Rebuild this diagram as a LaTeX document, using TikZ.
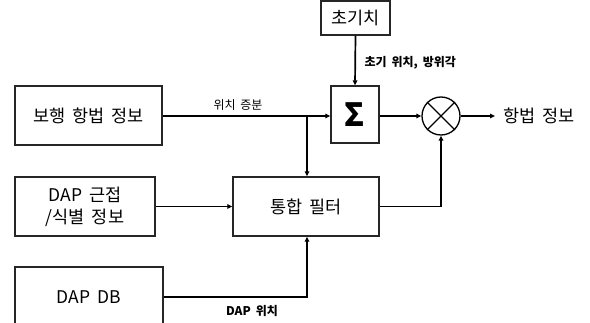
\documentclass[tikz,border=0pt]{standalone}
\usepackage{fontspec}
\setmainfont[WordSpace=1.8]{Noto Sans CJK KR}
\usetikzlibrary{arrows.meta}
\begin{document}
\begin{tikzpicture}[x=1pt,y=-1pt,
  blk/.style={draw=black!85,line width=1.3pt,inner sep=0pt,align=center,font=\fontsize{17.5}{21}\selectfont},
  con/.style={line width=1.7pt,black},
  arr/.style={con,-{Triangle[length=5pt,width=4.5pt]}},
  lbl/.style={font=\fontsize{12}{14}\selectfont},
  blbl/.style={font=\fontsize{12}{14}\selectfont\bfseries}]
\useasboundingbox (0,0) rectangle (590,323);
\clip (0,0) rectangle (590,323);
\node[blk,minimum width=147pt,minimum height=59pt] (walk) at (88.5,115.5) {보행 항법 정보};
\node[blk,minimum width=48pt,minimum height=57pt,font=\fontsize{32}{32}\selectfont\bfseries] (sigma) at (355,114.5) {Σ};
\node[blk,minimum width=69pt,minimum height=34pt] (init) at (355.5,18) {초기치};
\node[draw=black,line width=1.3pt,circle,minimum size=38pt,inner sep=0pt] (circ) at (441,116) {};
\draw[line width=1.1pt] (circ.north west) -- (circ.south east) (circ.north east) -- (circ.south west);
\node[blk,minimum width=146pt,minimum height=59pt] (filt) at (306,206.5) {통합 필터};
\node[blk,minimum width=140pt,minimum height=59pt,font=\fontsize{17.5}{22}\selectfont] (dap) at (85,206.5) {DAP 근접\\/식별 정보};
\node[blk,minimum width=148pt,minimum height=60pt] (db) at (89,297) {DAP DB};
\node[draw=none,anchor=west,inner sep=0pt,font=\fontsize{17.5}{21}\selectfont] (out) at (503,116) {항법 정보};
\coordinate (tap) at (307,116);
\coordinate (outend) at (495,116);
% connectors
\draw[arr] (walk.east |- tap) -- (tap -| sigma.west);
\draw[arr] (tap) -- (tap |- filt.north);
\draw[arr] (init.south) -- (sigma.north);
\draw[arr] (sigma.east |- circ.west) -- (circ.west);
\draw[arr] (circ.east) -- (outend);
\draw[arr] (filt.east) -| (circ.south);
\draw[arr] (dap.east) -- (filt.west);
\draw[arr] (db.east) -| (tap |- filt.south);
% labels
\node[lbl] (l1) at (238,105) {위치 증분};
\node[blbl,anchor=west] (l2) at (361,63) {초기 위치, 방위각};
\node[blbl] (l3) at (252,311) {DAP 위치};
\end{tikzpicture}
\end{document}
